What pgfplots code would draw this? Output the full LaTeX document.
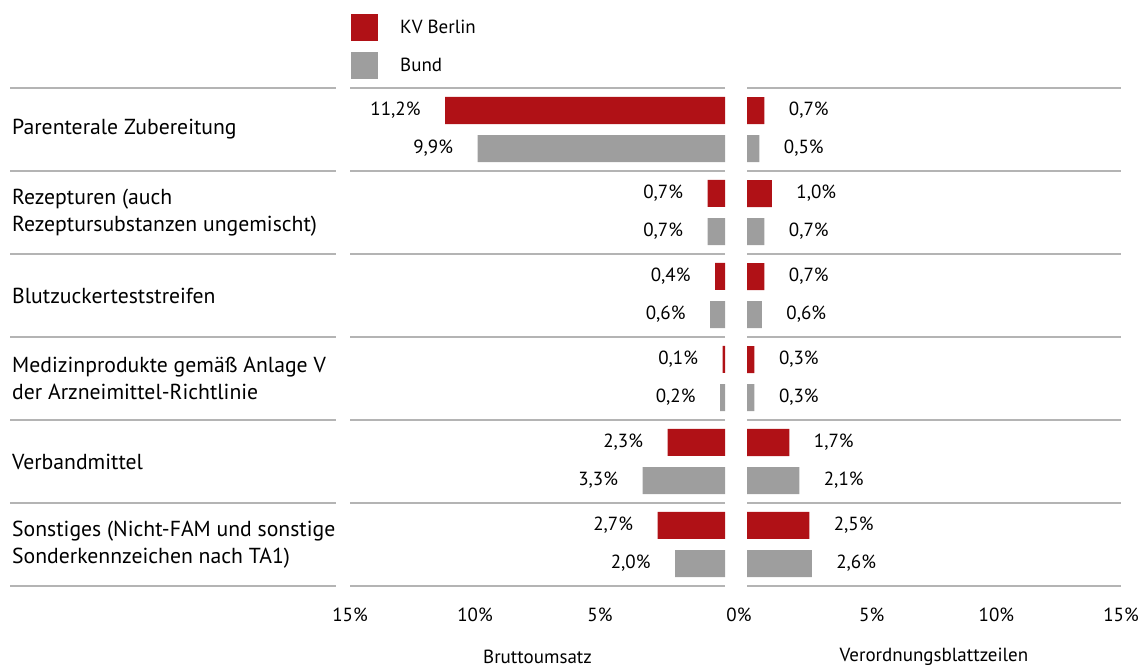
\documentclass[border=0pt]{standalone}
\usepackage{fontspec}
\setmainfont{PT Sans}
\usepackage{pgfplots}
\pgfplotsset{compat=1.18}
\definecolor{kvred}{HTML}{B01116}
\definecolor{bundgray}{HTML}{9E9E9E}
\definecolor{linegray}{HTML}{B4B4B4}
\pgfplotsset{
  panel/.style={
    scale only axis, height=498bp,
    ymin=-0.5, ymax=5.5, y dir=reverse, xmin=0, xmax=15,
    xbar, bar width=27bp, bar shift=0bp,
    axis line style={draw=none}, major tick length=0pt,
    ytick={-0.5,0.5,1.5,2.5,3.5,4.5,5.5}, yticklabels={},
    ymajorgrids, grid style={linegray, line width=1.6bp},
    /pgf/number format/assume math mode=true,
    xticklabel={\pgfmathprintnumber{\tick}\%},
    xticklabel style={yshift=-18bp},
    point meta=x,
    nodes near coords={\pgfmathprintnumber[fixed,fixed zerofill,precision=1,use comma,assume math mode=true]{\pgfplotspointmeta}\%},
    clip=false,
    font=\fontsize{19bp}{24bp}\selectfont,
    anchor=south west,
    xlabel style={at={(axis description cs:0.5,0)}, anchor=center, yshift=-71bp},
  }
}
\begin{document}
\begin{tikzpicture}[font=\fontsize{19bp}{26bp}\selectfont]
\useasboundingbox (0,0) rectangle (1143bp,668bp);
% label column separators
\foreach \yy in {580,497,414,331,248,165,82}
  \draw[linegray, line width=1.6bp] (10bp,\yy bp) -- (336bp,\yy bp);
% left panel
\begin{axis}[panel, at={(350bp,82bp)}, width=375bp, x dir=reverse,
  xtick={5,10,15},
  xlabel={Bruttoumsatz},
  every node near coord/.append style={anchor=east, xshift=-21bp},
  legend image code/.code={\fill[#1,draw=none] (0bp,-13.5bp) rectangle (27bp,13.5bp); \path (49bp,0bp);},
  legend style={at={(axis description cs:0,1)}, anchor=north west, xshift=1bp, yshift=74bp,
    draw=none, fill=none, inner sep=0pt, row sep=11bp, column sep=0pt,
    nodes={inner sep=0pt, anchor=west}, font=\fontsize{19bp}{24bp}\selectfont},
  legend cell align=left]
\addplot[fill=kvred, draw=none] coordinates {
  (11.2,-0.229) (0.7,0.771) (0.4,1.771) (0.1,2.771) (2.3,3.771) (2.7,4.771)};
\addlegendentry{KV Berlin}
\addplot[fill=bundgray, draw=none] coordinates {
  (9.9,0.229) (0.7,1.229) (0.6,2.229) (0.2,3.229) (3.3,4.229) (2.0,5.229)};
\addlegendentry{Bund}
\end{axis}
% right panel
\begin{axis}[panel, at={(747bp,82bp)}, width=374bp,
  xtick={5,10,15},
  extra x ticks={0}, extra x tick style={xticklabel style={xshift=-8bp}},
  xlabel={Verordnungsblattzeilen},
  every node near coord/.append style={anchor=west, xshift=21bp}]
\addplot[fill=kvred, draw=none] coordinates {
  (0.7,-0.229) (1.0,0.771) (0.7,1.771) (0.3,2.771) (1.7,3.771) (2.5,4.771)};
\addplot[fill=bundgray, draw=none] coordinates {
  (0.5,0.229) (0.7,1.229) (0.6,2.229) (0.3,3.229) (2.1,4.229) (2.6,5.229)};
\end{axis}
% category labels
\begin{scope}[every node/.style={anchor=west, align=left, inner xsep=0pt, font=\fontsize{21.7bp}{27bp}\selectfont}]
\node at (12bp,538.5bp) {Parenterale Zubereitung};
\node at (12bp,455.5bp) {Rezepturen (auch\\Rezeptursubstanzen ungemischt)};
\node at (12bp,372.5bp) {Blutzuckerteststreifen};
\node at (12bp,289.5bp) {Medizinprodukte gemäß Anlage V\\der Arzneimittel-Richtlinie};
\node at (12bp,206.5bp) {Verbandmittel};
\node at (12bp,123.5bp) {Sonstiges (Nicht-FAM und sonstige\\Sonderkennzeichen nach TA1)};
\end{scope}
\end{tikzpicture}
\end{document}
